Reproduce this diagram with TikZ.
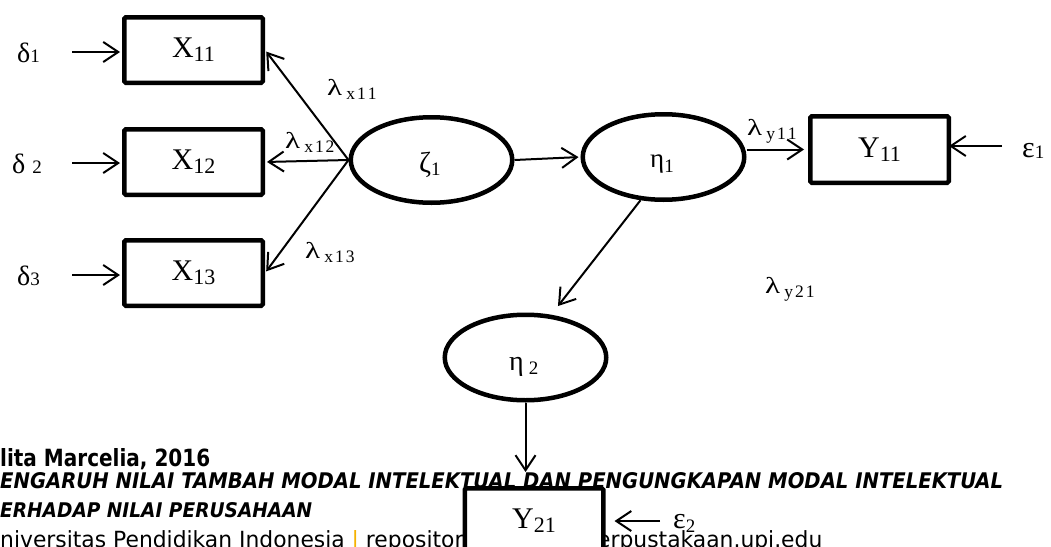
\documentclass[tikz,border=0pt]{standalone}
\usepackage{fontspec}
\setmainfont{Liberation Serif}
\newfontfamily\footfont{DejaVu Sans}
\usetikzlibrary{arrows.meta,shapes.geometric}
\definecolor{upiorange}{RGB}{245,178,0}
\newcommand\boxlab[2]{{\fontsize{30}{30}\selectfont #1}\raisebox{-4pt}{\fontsize{22}{22}\selectfont #2}}
\newcommand\lamlab[3]{\scalebox{1.35}[1]{\fontsize{23}{23}\selectfont λ}\kern4pt\raisebox{-4pt}{\fontsize{17.5}{17.5}\selectfont #1\kern2pt #2\kern2pt #3}}
\newcommand\grk[4]{{\fontsize{#1}{#1}\selectfont #2}\raisebox{-#3}{\fontsize{19}{19}\selectfont #4}}
\begin{document}
\begin{tikzpicture}[x=1pt,y=-1pt,
  obsbox/.style={draw, line width=4.5pt, rounded corners=1.5pt, minimum width=138.5pt,
    minimum height=65.5pt, inner sep=0pt, fill=white},
  latent/.style={draw, ellipse, line width=4.5pt, minimum width=161.5pt, minimum height=85.5pt, inner sep=0pt},
  arr/.style={line width=2pt, shorten >=2pt, -{Straight Barb[length=15pt,width=20pt,line width=2pt]}},
  lbl/.style={inner sep=0pt, anchor=base west},
  foot/.style={inner sep=0pt, anchor=base west}]
\useasboundingbox (0,0) rectangle (1051,546);
\clip (0,0) rectangle (1051,546);
\fill[white] (0,0) rectangle (1051,546);

% footer text (drawn first, partly covered by the Y21 box)
\node[foot] (f1) at (0,466) {\resizebox{210pt}{18pt}{\footfont\bfseries lita Marcelia, 2016}};
\node[foot] (f2) at (0,488) {\resizebox{1003pt}{16pt}{\footfont\bfseries\itshape ENGARUH NILAI TAMBAH MODAL INTELEKTUAL DAN PENGUNGKAPAN MODAL INTELEKTUAL}};
\node[foot] (f3) at (0,517) {\resizebox{312pt}{15pt}{\footfont\bfseries\itshape ERHADAP NILAI PERUSAHAAN}};
\node[foot] (f4) at (0,547) {\resizebox{822pt}{17pt}{\footfont niversitas Pendidikan Indonesia {\color{upiorange}|} repository.upi.edu {\color{upiorange}|} perpustakaan.upi.edu}};

% observed boxes
\node[obsbox] (X11) at (193.5,50) {\boxlab{X}{11}};
\node[obsbox] (X12) at (193.5,162) {\boxlab{X}{12}};
\node[obsbox] (X13) at (193.5,273) {\boxlab{X}{13}};
\node[obsbox, minimum height=66.5pt] (Y11) at (879.5,149.5) {\boxlab{Y}{11}};

% latent ellipses
\node[latent] (z1) at (431.5,160) {};
\node[latent] (e1) at (663.5,157) {};
\node[latent] (e2) at (525.5,357.5) {};
\node[lbl] (z1l) at (419,172) {\grk{29}{ζ}{3pt}{1}};
\node[lbl] (e1l) at (650,167) {\grk{27}{η}{5pt}{1}};
\node[lbl] (e2l) at (509,370) {\grk{28}{η}{4pt}{\kern5pt 2}};

% error labels
\node[lbl] (d1) at (17,62) {\grk{28}{δ}{0pt}{1}};
\node[lbl] (d2) at (12,173) {\grk{28}{δ}{0pt}{\kern7pt 2}};
\node[lbl] (d3) at (17,285) {\grk{28}{δ}{0pt}{3}};
\node[lbl] (eps1) at (1022,157) {\grk{30}{ε}{1pt}{1}};
\node[lbl] (eps2) at (673,528) {\grk{30}{ε}{4pt}{2}};

% loading labels
\node[lbl] (lx11) at (327,95) {\lamlab{x}{1}{1}};
\node[lbl] (lx12) at (285,148) {\lamlab{x}{1}{2}};
\node[lbl] (lx13) at (305,258) {\lamlab{x}{1}{3}};
\node[lbl] (ly11) at (747,135) {\lamlab{y}{1}{1}};
\node[lbl] (ly21) at (765,293) {\lamlab{y}{2}{1}};

% error arrows
\coordinate (d1s) at (72,52);
\coordinate (d2s) at (72,163);
\coordinate (d3s) at (72,275);
\coordinate (eps1s) at (1002,146);
\coordinate (eps2s) at (660,521);
\draw[arr] (d1s) -- (d1s -| X11.west);
\draw[arr] (d2s) -- (d2s -| X12.west);
\draw[arr] (d3s) -- (d3s -| X13.west);
\draw[arr, shorten >=-2pt] (eps1s) -- (eps1s -| Y11.east);

% structural arrows
\draw[arr] (z1.west) -- (X11.east);
\draw[arr] (z1.west) -- (X12.east);
\draw[arr] (z1.west) -- (X13.east);
\draw[arr] (z1.east) -- (e1.west);
\draw[arr, shorten >=4pt] (e1.east |- Y11.west) -- (Y11.west);
\draw[arr, shorten >=11pt] (e1.242) -- (e2.59);

% Y21 box (covers part of the footer)
\node[obsbox] (Y21) at (534,521) {\boxlab{Y}{21}};
\draw[arr, shorten >=14pt] (e2.south) -- (e2.south |- Y21.north);
\draw[arr, shorten >=9pt] (eps2s) -- (eps2s -| Y21.east);
\end{tikzpicture}
\end{document}
